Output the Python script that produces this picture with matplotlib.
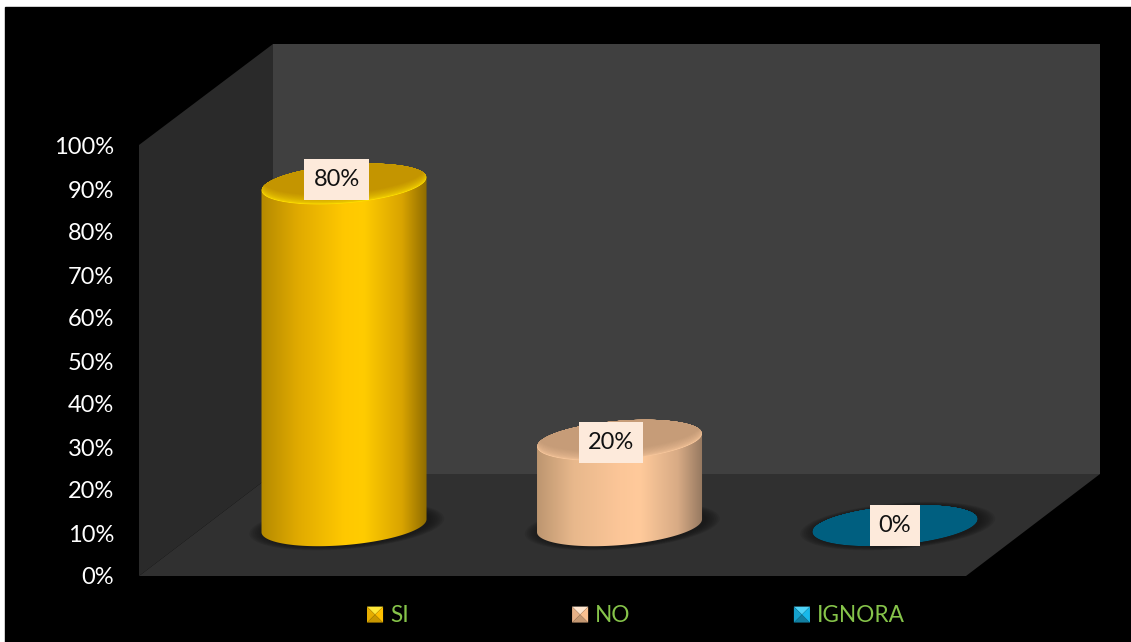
import numpy as np
import matplotlib
matplotlib.use("Agg")
import matplotlib.pyplot as plt
from matplotlib.colors import LinearSegmentedColormap, to_rgb
from matplotlib.legend_handler import HandlerBase
from matplotlib.patches import Polygon, Rectangle
from matplotlib.transforms import Affine2D, IdentityTransform

categories = ["SI", "NO", "IGNORA"]
values = [80, 20, 0]
value_labels = ["80%", "20%", "0%"]
yticks = [0, 10, 20, 30, 40, 50, 60, 70, 80, 90, 100]
ytick_labels = ["0%", "10%", "20%", "30%", "40%", "50%", "60%", "70%", "80%", "90%", "100%"]

body_stops = [
    ["#b58a00", "#e0aa00", "#ffc800", "#ffcc00", "#d9a400", "#8f6c00"],
    ["#bd9670", "#e8b88c", "#fcc698", "#ffca9b", "#d8ab85", "#957860"],
    ["#005f80", "#005f80", "#005f80", "#005f80", "#005f80", "#005f80"],
]
top_colors = ["#c49500", "#c69c78", "#005f80"]
rim_colors = ["#ffe000", "#f8c79c", "#005f80"]
legend_colors = [
    ("#ffc000", "#ffe838", "#c99700", "#e6ad00"),
    ("#fac090", "#ffe6cf", "#c59872", "#e6b086"),
    ("#17b9ea", "#4fd4f8", "#127ea0", "#14a0cc"),
]

W, H = 1131, 642
plt.rcParams["font.family"] = ["Lato", "DejaVu Sans"]
fig = plt.figure(figsize=(W / 100, H / 100), dpi=100, facecolor="white")

# top-left pixel coordinates for the box around the plot
px = Affine2D().scale(1, -1).translate(0, H)
fig.patches.append(Rectangle((5, 7), W - 5, H - 7, color="black", transform=px, zorder=-1))

ax = fig.add_axes([140 / W, (H - 576) / H, 960 / W, 430 / H])
ax.patch.set_visible(False)
for s in ax.spines.values():
    s.set_visible(False)

# 3d box: side wall, back wall, floor
ax.add_patch(Polygon([(139, 145), (273, 44), (273, 474), (139, 576)], color="#2a2a2a", transform=px, clip_on=False, lw=0))
ax.add_patch(Polygon([(273, 44), (1100, 44), (1100, 474), (273, 474)], color="#404040", transform=px, clip_on=False, lw=0))
ax.add_patch(Polygon([(139, 576), (273, 474), (1100, 474), (966, 576)], color="#303030", transform=px, clip_on=False, lw=0))

base = 11.7          # floor position of the bars, they stand in front of the back wall
depth_scale = 0.993  # bars sit slightly deeper than the axis plane
half_w = 0.2995
half_h = 4.53
tilt = 1.5           # rise of the right end of the ellipse, in value units
xmin, xmax = -0.7405, 2.744


def ellipse(cx, cy, scale=1.0):
    t = np.linspace(0, 2 * np.pi, 200)
    dx = half_w * scale * np.cos(t)
    return cx + dx, cy + half_h * scale * np.sin(t) + tilt * dx / half_w


def cylinder(i, v):
    # soft shadow under the base
    for s in np.linspace(1.18, 1.02, 8):
        sx, sy = ellipse(i + 0.01, base - 0.1, s)
        ax.fill(sx, sy, color="#141414", alpha=0.14, lw=0, clip_on=False, zorder=2)

    top = base + v * depth_scale
    ex, ey = ellipse(i, base)
    tx, ty = ellipse(i, top)
    if v > 0:
        # body outline: lower half of base, upper half of top
        bx = np.concatenate([ex[100:], tx[:100]])
        by = np.concatenate([ey[100:], ty[:100]])
        clip = Polygon(np.column_stack([bx, by]), transform=ax.transData, fc="none", ec="none")
        ax.add_patch(clip)
        cmap = LinearSegmentedColormap.from_list(
            "body", list(zip([0, 0.22, 0.5, 0.62, 0.85, 1], body_stops[i])))
        grad = np.linspace(0, 1, 256).reshape(1, -1)
        im = ax.imshow(grad, cmap=cmap, aspect="auto", zorder=3,
                       extent=[i - half_w, i + half_w, base - 8, top + 8])
        im.set_clip_path(clip)

    # top face: a bevel that fades from the front edge into the face colour
    face = Polygon(np.column_stack([tx, ty]), transform=ax.transData, fc="none", ec="none")
    ax.add_patch(face)
    c0, c1 = np.array(to_rgb(rim_colors[i])), np.array(to_rgb(top_colors[i]))
    for k in range(13):
        f = k / 12
        sx, sy = ellipse(i, top + 2.2 * f, 1 - 0.02 * f)
        layer = ax.fill(sx, sy, color=c0 + (c1 - c0) * f ** 0.5, lw=0, zorder=4)[0]
        layer.set_clip_path(face)


for i, v in enumerate(values):
    cylinder(i, v)

ax.set_xlim(xmin, xmax)
ax.set_ylim(0, 100)
ax.set_xticks([])
ax.set_yticks(yticks)
ax.set_yticklabels(ytick_labels, fontsize=17, color="white")
ax.tick_params(axis="y", length=0, pad=18.5)

# value labels sit a little left of the two tall bars, on a fixed height tag
label_dx = [-0.027, -0.03, 0]
label_dy = [1.1, -0.5, 0.1]
renderer = fig.canvas.get_renderer()
for i, v in enumerate(values):
    t = ax.text(i + label_dx[i], base + v * depth_scale + label_dy[i], value_labels[i], ha="center", va="center",
                fontsize=17, color="#111111", zorder=6, clip_on=False)
    bb = t.get_window_extent(renderer)
    yc = (bb.y0 + bb.y1) / 2
    ax.add_patch(Rectangle((bb.x0 - 9, yc - 20.5), bb.width + 18, 41, fc="#fdeadb", ec="none",
                           transform=IdentityTransform(), zorder=5, clip_on=False))


class PyramidHandler(HandlerBase):
    def create_artists(self, legend, orig, xd, yd, w, h, fs, trans):
        mid, light, dark, side = orig
        x0, y0 = -xd, -yd
        x1, y1 = x0 + w, y0 + h
        xc, yc = (x0 + x1) / 2, (y0 + y1) / 2
        faces = [
            Polygon([(x0, y1), (x1, y1), (xc, yc)], color=light, lw=0),
            Polygon([(x0, y0), (x1, y0), (xc, yc)], color=dark, lw=0),
            Polygon([(x0, y0), (x0, y1), (xc, yc)], color=side, lw=0),
            Polygon([(x1, y0), (x1, y1), (xc, yc)], color=mid, lw=0),
        ]
        for f in faces:
            f.set_transform(trans)
        return faces


leg = fig.legend(legend_colors, categories, handler_map={tuple: PyramidHandler()},
                 ncol=3, frameon=False, fontsize=16.3, labelcolor="#86c44a",
                 handlelength=0.71, handleheight=0.71, handletextpad=0.3, columnspacing=7.22,
                 loc="center left", bbox_to_anchor=(367 / W, (H - 616) / H),
                 borderpad=0, borderaxespad=0)

fig.savefig("out.png", dpi=100, facecolor="white")
